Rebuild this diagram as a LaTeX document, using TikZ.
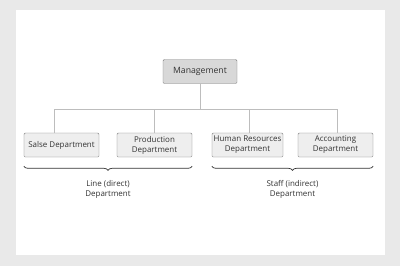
\documentclass[tikz,border=0pt]{standalone}
\usepackage{fontspec}
\setmainfont{Open Sans}
\usetikzlibrary{decorations.pathreplacing, positioning}
\definecolor{pagegray}{HTML}{E9E9E9}
\definecolor{boxline}{HTML}{7E7E7E}
\definecolor{topfill}{HTML}{D8D8D8}
\definecolor{deptfill}{HTML}{EEEEEE}
\definecolor{linkgray}{HTML}{BDBDBD}
\definecolor{inkgray}{HTML}{333333}
\tikzset{
  head/.style   = {rectangle, draw=boxline, fill=topfill, rounded corners=1pt,
                   minimum width=2.22cm, minimum height=0.72cm, inner sep=1pt,
                   text=inkgray, font=\fontsize{7.4}{8.5}\selectfont},
  dept/.style   = {rectangle, draw=boxline, fill=deptfill, rounded corners=1pt,
                   minimum width=2.25cm, minimum height=0.72cm, inner sep=1pt,
                   align=center, text=inkgray, font=\fontsize{6.8}{8.5}\selectfont},
  link/.style   = {draw=linkgray, line width=0.5pt},
  group/.style  = {draw=inkgray, line width=0.6pt,
                   decorate, decoration={brace, mirror, amplitude=3.5pt}},
  caption/.style = {align=center, text=inkgray, font=\fontsize{6.8}{8.5}\selectfont}
}

\begin{document}
\begin{tikzpicture}[x=0.03cm, y=-0.03cm]
  % Page
  \fill[pagegray] (0,0) rectangle (400,266);
  \fill[white] (16,10) rectangle (385,255);
  \useasboundingbox (0,0) rectangle (400,266);

  % Top box
  \node (mgmt)  [head] at (200,71.5) {Management};

  % Departments
  \node (sales) [dept] at (61.5,145)  {Salse Department};
  \node (prod)  [dept] at (154.5,145) {Production\\Department};
  \node (hr)    [dept, minimum width=2.13cm] at (247.5,145) {Human Resources\\Department};
  \node (acct)  [dept] at (335.5,145) {Accounting\\Department};

  % Connectors
  \coordinate (bus) at (200,109);
  \draw[link] (mgmt.south) -- (bus);
  \draw[link] (bus) -| ([xshift=-0.21cm]sales.north);
  \draw[link] (bus) -| (prod.north);
  \draw[link] (bus) -| ([xshift=0.05cm]hr.north);
  \draw[link] (bus) -| ([xshift=0.05cm]acct.north);

  % Groups
  \draw[group] ([yshift=-0.27cm]sales.south west) -- ([yshift=-0.27cm]prod.south east)
    node (line) [caption, midway, below=0.3cm] {Line (direct)\\Department};
  \draw[group] ([yshift=-0.27cm]hr.south west) -- ([yshift=-0.27cm]acct.south east)
    node (staff) [caption, midway, below=0.3cm] {Staff (indirect)\\Department};
\end{tikzpicture}
\end{document}
